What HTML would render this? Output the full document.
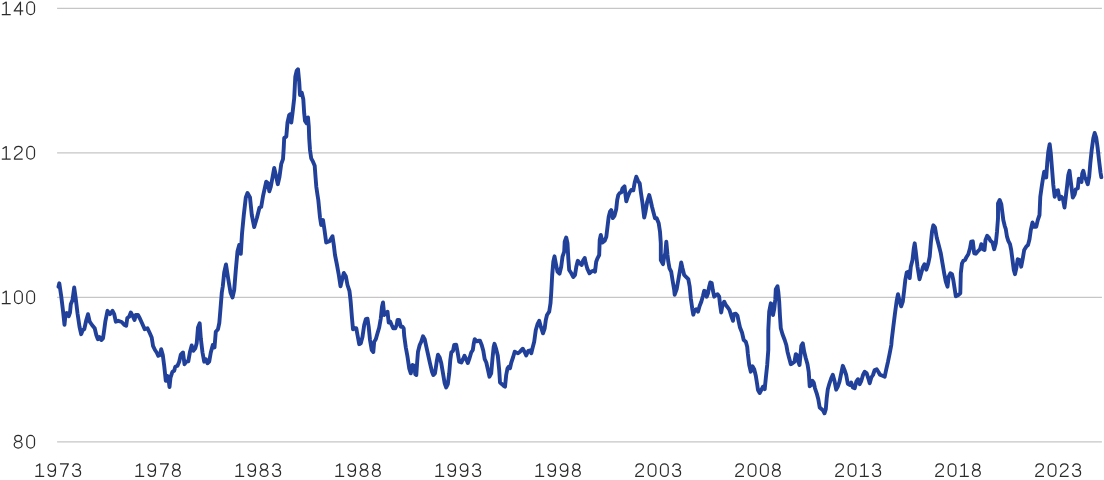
<!DOCTYPE html>
<html><head><meta charset="utf-8"><style>
html,body{margin:0;padding:0;background:#fff;}
body{width:1104px;height:480px;position:relative;overflow:hidden;font-family:"Liberation Sans",sans-serif;}
svg{position:absolute;left:0;top:0;}
</style></head><body>
<svg width="1104" height="480" viewBox="0 0 1104 480">
<g stroke="#c6c6c6" stroke-width="1.1">
<line x1="57.1" y1="8.35" x2="1101.9" y2="8.35"/>
<line x1="57.1" y1="152.85" x2="1101.9" y2="152.85"/>
<line x1="57.1" y1="297.35" x2="1101.9" y2="297.35"/>
<line x1="57.1" y1="441.85" x2="1101.9" y2="441.85"/>
</g>
<path d="M58.5,286.8 L59.3,283.3 L61.3,296.7 L63.0,310.8 L64.5,324.7 L65.5,314.2 L66.7,313.0 L68.7,316.3 L70.0,312.5 L70.8,304.2 L72.5,300.0 L74.2,287.5 L75.7,298.3 L77.5,313.3 L79.5,326.7 L81.2,334.2 L82.7,330.0 L84.3,329.2 L86.3,320.0 L88.0,314.2 L89.7,321.7 L92.0,325.0 L94.7,328.3 L96.3,335.0 L97.8,339.2 L99.5,337.0 L101.3,340.0 L103.0,338.3 L104.2,330.0 L105.3,321.7 L107.5,310.8 L110.0,314.2 L112.5,310.8 L114.2,314.2 L115.8,321.7 L118.3,320.8 L121.7,322.0 L124.2,324.7 L126.2,325.8 L127.3,318.0 L129.2,316.7 L130.8,312.5 L132.5,315.5 L134.5,320.0 L135.8,315.0 L138.0,315.0 L140.0,318.7 L142.5,324.2 L144.7,329.2 L147.5,328.3 L149.5,332.5 L151.7,337.5 L153.0,345.8 L155.0,350.0 L156.7,352.5 L158.3,355.8 L160.0,355.0 L161.2,349.2 L162.8,355.0 L164.2,365.8 L165.8,380.8 L167.2,375.8 L168.3,377.5 L169.5,387.0 L170.5,377.5 L172.5,371.7 L174.2,370.8 L175.3,366.7 L177.5,365.8 L179.2,361.7 L180.8,354.7 L183.0,352.5 L184.5,364.2 L186.3,361.7 L188.3,361.3 L190.0,351.7 L191.7,345.5 L193.3,350.8 L195.3,348.3 L196.7,343.3 L198.0,327.5 L199.7,323.3 L200.8,338.3 L202.5,352.5 L204.2,361.7 L205.8,359.2 L207.5,363.3 L209.2,361.7 L210.8,352.5 L212.8,345.0 L214.5,347.5 L215.8,331.7 L218.0,329.2 L219.3,323.0 L220.3,311.0 L221.8,292.5 L222.8,286.2 L224.2,272.5 L226.0,264.5 L228.0,277.5 L230.5,292.5 L232.5,297.5 L234.2,290.0 L235.8,270.0 L237.5,251.2 L239.2,245.0 L240.8,253.8 L242.0,233.8 L243.8,215.0 L245.8,197.5 L247.5,193.0 L250.0,197.5 L251.8,215.0 L254.2,227.0 L257.0,217.5 L259.5,207.5 L261.2,207.0 L263.0,196.2 L265.5,185.0 L266.2,181.7 L268.0,183.3 L269.3,191.3 L270.8,186.7 L272.5,177.5 L274.2,168.0 L275.8,175.0 L277.8,184.2 L279.5,176.7 L281.2,164.2 L283.0,159.2 L283.7,148.3 L284.2,138.0 L286.3,136.7 L287.5,122.5 L289.2,115.0 L290.3,114.2 L291.3,122.5 L292.5,113.3 L294.2,98.3 L295.3,76.7 L296.7,70.8 L298.0,69.2 L299.2,81.7 L300.0,95.0 L301.7,92.5 L303.3,99.2 L304.2,113.3 L305.0,120.8 L306.7,123.3 L308.0,117.5 L308.8,126.7 L309.2,138.3 L310.0,150.0 L311.2,158.3 L313.0,161.7 L314.7,165.8 L315.5,176.7 L316.3,186.7 L317.5,195.0 L318.3,200.0 L320.0,217.5 L321.2,225.0 L323.0,220.0 L324.5,230.0 L326.2,242.5 L329.5,241.2 L332.5,236.2 L333.8,245.0 L335.0,255.0 L337.0,265.0 L338.8,275.0 L340.5,286.2 L342.0,280.0 L343.8,273.0 L345.8,276.2 L347.5,285.0 L349.5,291.2 L350.5,300.0 L350.8,303.3 L352.0,318.3 L353.0,329.2 L354.7,328.3 L356.3,328.3 L357.5,335.0 L359.2,344.2 L360.8,343.3 L362.5,336.7 L364.2,325.0 L365.8,319.2 L367.5,318.7 L368.7,326.7 L370.0,340.0 L371.7,350.0 L373.3,352.0 L374.2,341.7 L375.8,339.2 L377.5,333.3 L379.2,327.5 L380.8,318.3 L382.0,306.7 L383.0,302.5 L384.2,315.0 L385.8,313.3 L387.5,311.7 L388.7,322.5 L390.3,321.7 L391.7,325.0 L393.3,328.3 L395.3,328.3 L396.7,325.0 L397.5,320.0 L399.2,320.0 L400.8,326.7 L402.5,326.7 L403.7,328.3 L404.2,335.8 L405.8,347.5 L407.5,356.7 L409.2,368.3 L410.8,373.3 L412.5,365.0 L414.2,365.8 L415.3,374.2 L416.3,375.0 L417.2,361.7 L418.0,351.7 L419.7,345.0 L421.3,341.7 L423.0,336.3 L424.7,339.2 L426.3,346.7 L428.0,354.2 L430.0,363.3 L432.0,371.7 L433.3,375.0 L435.0,373.3 L436.7,361.7 L438.0,354.7 L439.7,357.5 L441.3,363.3 L443.0,373.3 L444.7,383.3 L446.2,387.5 L447.8,384.2 L449.2,373.3 L450.3,360.0 L451.3,352.5 L453.0,350.8 L454.2,345.0 L456.2,344.7 L457.5,351.7 L459.2,361.7 L461.3,362.5 L463.0,359.2 L464.5,355.8 L466.2,359.2 L467.8,363.0 L469.5,358.3 L471.2,352.5 L472.8,350.0 L473.8,343.3 L474.7,339.2 L476.7,341.3 L478.3,340.8 L480.0,340.8 L481.7,345.0 L483.3,350.8 L484.7,359.2 L486.3,362.5 L488.0,370.0 L489.5,376.7 L491.2,373.3 L492.5,358.3 L493.7,346.7 L494.5,343.8 L496.2,349.2 L497.8,355.8 L499.2,370.0 L500.0,382.5 L502.0,384.2 L503.7,385.8 L505.0,386.7 L506.2,375.0 L507.5,368.3 L508.7,366.7 L510.0,368.3 L511.3,362.5 L513.0,357.5 L514.7,351.7 L516.3,352.5 L518.0,353.3 L520.0,351.7 L522.8,348.7 L524.5,351.7 L526.2,355.5 L528.3,350.8 L530.0,350.5 L531.3,353.3 L532.5,348.3 L534.2,341.7 L535.8,330.0 L537.5,324.2 L539.2,320.8 L540.8,326.7 L543.0,333.3 L544.7,328.3 L545.8,320.0 L547.0,315.0 L549.2,311.7 L550.5,303.3 L551.3,291.7 L552.2,275.0 L553.3,261.7 L554.5,256.3 L555.8,263.3 L557.5,271.7 L559.5,273.7 L561.2,266.7 L562.5,256.7 L564.2,251.7 L564.7,241.7 L566.2,237.5 L567.5,243.3 L568.3,258.3 L569.2,270.0 L571.3,273.3 L573.3,277.0 L575.0,275.0 L576.3,266.7 L577.8,260.8 L579.7,263.3 L581.7,265.0 L583.0,260.8 L584.7,258.0 L585.8,263.3 L587.5,269.2 L589.5,273.3 L591.7,271.3 L593.3,270.8 L595.0,271.7 L596.2,261.7 L597.5,258.3 L599.2,255.0 L599.7,240.0 L600.8,235.0 L602.5,242.5 L604.7,240.8 L606.3,236.7 L607.5,226.7 L608.7,216.7 L610.0,211.7 L611.2,210.0 L612.8,218.0 L614.5,215.8 L616.2,209.2 L617.2,200.0 L618.3,195.0 L619.7,193.0 L621.3,192.5 L622.5,188.3 L624.5,186.3 L625.3,193.3 L626.3,201.3 L627.8,196.7 L629.5,192.5 L631.2,190.0 L633.3,190.3 L634.7,182.5 L636.3,176.7 L638.0,180.8 L639.7,183.3 L640.8,191.7 L642.5,203.3 L644.2,217.5 L645.5,211.7 L647.2,201.7 L649.2,195.0 L650.5,200.0 L652.0,206.7 L653.7,213.3 L655.0,218.3 L656.7,218.3 L658.7,223.3 L660.0,231.7 L660.8,243.3 L660.8,260.0 L663.0,264.2 L664.2,256.7 L665.3,253.3 L666.3,241.7 L667.5,255.0 L668.3,261.7 L669.5,268.3 L671.2,271.7 L672.5,280.0 L674.2,290.0 L674.7,294.7 L676.7,289.2 L678.3,280.0 L680.0,270.0 L681.2,262.5 L682.5,268.3 L684.2,275.0 L685.8,276.7 L688.3,279.2 L689.7,286.7 L690.8,298.3 L692.2,308.3 L693.3,314.7 L694.7,310.0 L696.3,309.2 L698.0,311.7 L699.7,305.8 L701.3,301.7 L703.0,295.8 L704.2,290.8 L705.3,291.3 L706.7,296.7 L708.0,293.3 L709.2,286.7 L710.3,282.5 L711.7,283.0 L712.8,290.0 L714.2,296.7 L715.8,295.0 L717.5,294.2 L719.2,296.7 L720.0,304.2 L721.2,312.5 L722.5,305.0 L724.2,301.7 L725.8,305.0 L727.8,307.5 L729.5,310.0 L731.2,315.8 L733.0,320.8 L733.8,314.2 L735.8,313.7 L737.5,315.8 L738.7,321.7 L740.0,327.5 L742.0,332.5 L743.7,340.0 L745.8,341.7 L747.2,346.7 L747.8,353.3 L749.2,365.0 L750.8,371.7 L752.5,366.3 L754.2,369.2 L755.8,375.8 L757.0,383.3 L758.0,390.0 L759.7,393.0 L761.3,390.0 L763.0,386.7 L764.7,389.2 L765.8,378.3 L767.2,365.0 L768.3,350.0 L768.3,330.0 L769.2,311.7 L770.8,303.3 L771.7,304.2 L773.0,315.0 L774.2,309.2 L775.3,299.2 L775.8,289.2 L777.5,286.3 L778.3,291.7 L779.2,301.7 L780.0,316.7 L780.8,328.3 L782.5,334.2 L784.7,340.0 L786.3,345.0 L787.5,351.7 L789.2,358.3 L790.8,364.2 L792.5,363.3 L794.5,361.7 L795.8,354.2 L797.0,355.0 L798.3,361.7 L799.5,365.0 L800.5,355.0 L801.3,345.8 L802.8,343.3 L804.2,351.7 L805.8,358.3 L807.5,364.2 L808.7,371.7 L809.7,386.3 L811.3,385.0 L812.5,380.8 L813.7,382.5 L815.0,388.3 L816.7,393.3 L818.3,399.2 L819.7,407.5 L821.7,409.2 L823.3,410.8 L824.5,413.3 L825.8,409.2 L826.7,398.3 L827.8,389.2 L829.5,383.3 L831.2,378.3 L832.8,374.7 L834.5,380.8 L836.2,389.7 L837.8,386.7 L839.5,381.7 L841.2,373.3 L842.8,365.8 L844.5,370.0 L846.2,375.0 L847.8,383.7 L850.0,385.0 L851.2,382.5 L852.8,387.5 L854.7,388.3 L856.3,381.7 L858.0,379.2 L859.7,384.2 L861.3,380.8 L863.0,375.0 L864.7,371.7 L866.7,373.3 L868.3,378.3 L869.7,383.3 L871.3,377.5 L873.0,375.0 L874.7,370.0 L876.7,369.2 L878.3,371.7 L880.0,374.7 L882.5,375.8 L884.7,376.7 L886.3,369.2 L888.0,361.7 L889.7,353.3 L891.3,345.0 L891.7,340.0 L893.3,326.7 L895.0,313.3 L896.7,300.8 L898.0,294.2 L899.5,300.8 L901.2,306.3 L902.8,301.7 L904.2,290.0 L905.3,280.0 L906.7,272.5 L908.3,271.7 L909.7,278.0 L910.8,266.7 L912.5,260.0 L913.8,248.3 L914.7,243.3 L915.8,251.7 L917.5,266.7 L919.5,279.2 L921.2,273.3 L922.8,267.5 L924.5,264.2 L926.3,269.7 L928.3,263.3 L929.7,256.7 L930.8,243.3 L932.0,231.7 L933.3,225.3 L935.0,227.5 L936.7,237.5 L938.7,245.0 L940.8,253.3 L942.5,263.3 L944.2,273.3 L945.8,281.7 L947.5,286.7 L948.7,276.7 L950.3,273.3 L952.0,274.2 L953.3,280.0 L955.8,296.3 L958.3,295.0 L960.3,293.3 L960.8,273.3 L962.0,263.3 L963.3,260.8 L965.0,260.0 L966.7,256.7 L968.3,254.2 L970.0,248.3 L971.2,241.7 L972.8,241.3 L974.2,253.3 L975.8,253.7 L978.3,250.8 L980.0,249.2 L981.3,244.2 L983.0,249.2 L984.5,250.0 L985.5,240.0 L987.2,235.8 L988.8,237.5 L990.5,240.8 L992.5,242.5 L994.2,249.2 L995.8,243.3 L997.0,231.7 L998.0,218.3 L998.0,203.3 L999.7,200.0 L1001.3,204.2 L1003.3,220.0 L1004.7,225.8 L1005.8,229.2 L1007.0,236.7 L1008.3,240.8 L1010.0,244.2 L1011.2,250.0 L1012.5,260.0 L1013.8,270.0 L1015.0,274.2 L1016.3,268.3 L1017.7,259.2 L1019.7,260.0 L1021.2,266.7 L1022.8,258.3 L1024.2,250.0 L1026.2,246.7 L1028.0,245.0 L1029.5,239.2 L1030.8,230.0 L1032.5,222.5 L1034.2,226.7 L1036.2,226.7 L1037.8,220.0 L1039.5,215.0 L1040.3,196.7 L1041.7,186.7 L1043.0,178.3 L1044.2,171.7 L1046.2,177.5 L1047.2,163.3 L1048.3,151.7 L1049.7,144.2 L1050.8,153.3 L1052.0,168.3 L1053.3,185.0 L1054.7,196.7 L1056.3,190.8 L1058.0,190.3 L1059.5,199.2 L1061.2,196.7 L1062.8,198.3 L1064.5,207.5 L1065.8,196.7 L1067.2,185.0 L1068.3,175.0 L1069.5,170.8 L1070.8,181.7 L1072.8,197.5 L1074.7,194.2 L1075.8,189.2 L1077.8,188.3 L1078.8,178.7 L1081.5,182.0 L1082.2,173.7 L1083.3,170.8 L1084.7,176.7 L1086.2,180.0 L1087.8,184.2 L1089.2,176.7 L1090.3,163.3 L1091.7,150.0 L1093.3,138.3 L1094.7,133.0 L1096.2,137.5 L1097.5,146.7 L1099.2,161.7 L1100.5,172.5 L1101.3,177.2" fill="none" stroke="#21409a" stroke-width="3.9" stroke-linejoin="round" stroke-linecap="round"/>
<g fill="none" stroke="#2b2b2b" stroke-width="1.25" stroke-linejoin="round" stroke-linecap="butt">
<path transform="translate(1.60,1.35) scale(1,0.972)" d="M0.2,13.6 H9.1 M4.65,13.6 V0.7 L1.0,3.1"/><path transform="translate(13.45,1.35) scale(1,0.972)" d="M7.0,14.2 V0.8 L0.7,9.9 H9.8"/><path transform="translate(26.10,1.35) scale(1,0.972)" d="M0.7,4.6 A3.85,4.0 0 0 1 8.4,4.6 V9.6 A3.85,4.0 0 0 1 0.7,9.6 Z"/><path transform="translate(1.60,145.85) scale(1,0.972)" d="M0.2,13.6 H9.1 M4.65,13.6 V0.7 L1.0,3.1"/><path transform="translate(13.80,145.85) scale(1,0.972)" d="M0.8,4.1 C0.9,1.8 2.4,0.6 4.6,0.6 C6.8,0.6 8.3,1.9 8.3,3.9 C8.3,5.6 7.2,6.7 5.4,8.0 L2.7,9.9 C1.3,10.9 0.7,12.0 0.6,13.6 H8.9"/><path transform="translate(26.10,145.85) scale(1,0.972)" d="M0.7,4.6 A3.85,4.0 0 0 1 8.4,4.6 V9.6 A3.85,4.0 0 0 1 0.7,9.6 Z"/><path transform="translate(1.60,290.35) scale(1,0.972)" d="M0.2,13.6 H9.1 M4.65,13.6 V0.7 L1.0,3.1"/><path transform="translate(13.90,290.35) scale(1,0.972)" d="M0.7,4.6 A3.85,4.0 0 0 1 8.4,4.6 V9.6 A3.85,4.0 0 0 1 0.7,9.6 Z"/><path transform="translate(26.10,290.35) scale(1,0.972)" d="M0.7,4.6 A3.85,4.0 0 0 1 8.4,4.6 V9.6 A3.85,4.0 0 0 1 0.7,9.6 Z"/><path transform="translate(13.60,434.85) scale(1,0.972)" d="M4.55,0.6 A3.4,3.1 0 0 1 4.55,6.8 A3.4,3.1 0 0 1 4.55,0.6 Z M4.55,6.8 A3.95,3.4 0 0 1 4.55,13.6 A3.95,3.4 0 0 1 4.55,6.8 Z"/><path transform="translate(26.10,434.85) scale(1,0.972)" d="M0.7,4.6 A3.85,4.0 0 0 1 8.4,4.6 V9.6 A3.85,4.0 0 0 1 0.7,9.6 Z"/><path transform="translate(35.10,463.25) scale(1,0.972)" d="M0.2,13.6 H9.1 M4.65,13.6 V0.7 L1.0,3.1"/><path transform="translate(47.35,463.25) scale(1,0.972)" d="M8.1,4.5 A3.75,3.9 0 1 1 0.6,4.5 A3.75,3.9 0 1 1 8.1,4.5 V8.8 C8.1,12.0 6.8,13.6 4.4,13.6 C2.4,13.6 1.1,12.6 0.8,10.9"/><path transform="translate(59.65,463.25) scale(1,0.972)" d="M0.3,0.6 H8.7 C6.0,4.8 4.2,9.0 3.4,14.1"/><path transform="translate(72.00,463.25) scale(1,0.972)" d="M0.9,3.8 C1.1,1.7 2.5,0.6 4.6,0.6 C6.8,0.6 8.2,1.8 8.2,3.6 C8.2,5.5 6.8,6.6 4.4,6.6 H3.4 M4.4,6.6 C7.1,6.6 8.6,7.9 8.6,10.0 C8.6,12.2 7.1,13.6 4.6,13.6 C2.3,13.6 0.8,12.4 0.5,10.1"/><path transform="translate(135.10,463.25) scale(1,0.972)" d="M0.2,13.6 H9.1 M4.65,13.6 V0.7 L1.0,3.1"/><path transform="translate(147.35,463.25) scale(1,0.972)" d="M8.1,4.5 A3.75,3.9 0 1 1 0.6,4.5 A3.75,3.9 0 1 1 8.1,4.5 V8.8 C8.1,12.0 6.8,13.6 4.4,13.6 C2.4,13.6 1.1,12.6 0.8,10.9"/><path transform="translate(159.65,463.25) scale(1,0.972)" d="M0.3,0.6 H8.7 C6.0,4.8 4.2,9.0 3.4,14.1"/><path transform="translate(171.80,463.25) scale(1,0.972)" d="M4.55,0.6 A3.4,3.1 0 0 1 4.55,6.8 A3.4,3.1 0 0 1 4.55,0.6 Z M4.55,6.8 A3.95,3.4 0 0 1 4.55,13.6 A3.95,3.4 0 0 1 4.55,6.8 Z"/><path transform="translate(235.10,463.25) scale(1,0.972)" d="M0.2,13.6 H9.1 M4.65,13.6 V0.7 L1.0,3.1"/><path transform="translate(247.35,463.25) scale(1,0.972)" d="M8.1,4.5 A3.75,3.9 0 1 1 0.6,4.5 A3.75,3.9 0 1 1 8.1,4.5 V8.8 C8.1,12.0 6.8,13.6 4.4,13.6 C2.4,13.6 1.1,12.6 0.8,10.9"/><path transform="translate(259.50,463.25) scale(1,0.972)" d="M4.55,0.6 A3.4,3.1 0 0 1 4.55,6.8 A3.4,3.1 0 0 1 4.55,0.6 Z M4.55,6.8 A3.95,3.4 0 0 1 4.55,13.6 A3.95,3.4 0 0 1 4.55,6.8 Z"/><path transform="translate(272.00,463.25) scale(1,0.972)" d="M0.9,3.8 C1.1,1.7 2.5,0.6 4.6,0.6 C6.8,0.6 8.2,1.8 8.2,3.6 C8.2,5.5 6.8,6.6 4.4,6.6 H3.4 M4.4,6.6 C7.1,6.6 8.6,7.9 8.6,10.0 C8.6,12.2 7.1,13.6 4.6,13.6 C2.3,13.6 0.8,12.4 0.5,10.1"/><path transform="translate(335.10,463.25) scale(1,0.972)" d="M0.2,13.6 H9.1 M4.65,13.6 V0.7 L1.0,3.1"/><path transform="translate(347.35,463.25) scale(1,0.972)" d="M8.1,4.5 A3.75,3.9 0 1 1 0.6,4.5 A3.75,3.9 0 1 1 8.1,4.5 V8.8 C8.1,12.0 6.8,13.6 4.4,13.6 C2.4,13.6 1.1,12.6 0.8,10.9"/><path transform="translate(359.50,463.25) scale(1,0.972)" d="M4.55,0.6 A3.4,3.1 0 0 1 4.55,6.8 A3.4,3.1 0 0 1 4.55,0.6 Z M4.55,6.8 A3.95,3.4 0 0 1 4.55,13.6 A3.95,3.4 0 0 1 4.55,6.8 Z"/><path transform="translate(371.80,463.25) scale(1,0.972)" d="M4.55,0.6 A3.4,3.1 0 0 1 4.55,6.8 A3.4,3.1 0 0 1 4.55,0.6 Z M4.55,6.8 A3.95,3.4 0 0 1 4.55,13.6 A3.95,3.4 0 0 1 4.55,6.8 Z"/><path transform="translate(435.10,463.25) scale(1,0.972)" d="M0.2,13.6 H9.1 M4.65,13.6 V0.7 L1.0,3.1"/><path transform="translate(447.35,463.25) scale(1,0.972)" d="M8.1,4.5 A3.75,3.9 0 1 1 0.6,4.5 A3.75,3.9 0 1 1 8.1,4.5 V8.8 C8.1,12.0 6.8,13.6 4.4,13.6 C2.4,13.6 1.1,12.6 0.8,10.9"/><path transform="translate(459.65,463.25) scale(1,0.972)" d="M8.1,4.5 A3.75,3.9 0 1 1 0.6,4.5 A3.75,3.9 0 1 1 8.1,4.5 V8.8 C8.1,12.0 6.8,13.6 4.4,13.6 C2.4,13.6 1.1,12.6 0.8,10.9"/><path transform="translate(472.00,463.25) scale(1,0.972)" d="M0.9,3.8 C1.1,1.7 2.5,0.6 4.6,0.6 C6.8,0.6 8.2,1.8 8.2,3.6 C8.2,5.5 6.8,6.6 4.4,6.6 H3.4 M4.4,6.6 C7.1,6.6 8.6,7.9 8.6,10.0 C8.6,12.2 7.1,13.6 4.6,13.6 C2.3,13.6 0.8,12.4 0.5,10.1"/><path transform="translate(535.10,463.25) scale(1,0.972)" d="M0.2,13.6 H9.1 M4.65,13.6 V0.7 L1.0,3.1"/><path transform="translate(547.35,463.25) scale(1,0.972)" d="M8.1,4.5 A3.75,3.9 0 1 1 0.6,4.5 A3.75,3.9 0 1 1 8.1,4.5 V8.8 C8.1,12.0 6.8,13.6 4.4,13.6 C2.4,13.6 1.1,12.6 0.8,10.9"/><path transform="translate(559.65,463.25) scale(1,0.972)" d="M8.1,4.5 A3.75,3.9 0 1 1 0.6,4.5 A3.75,3.9 0 1 1 8.1,4.5 V8.8 C8.1,12.0 6.8,13.6 4.4,13.6 C2.4,13.6 1.1,12.6 0.8,10.9"/><path transform="translate(571.80,463.25) scale(1,0.972)" d="M4.55,0.6 A3.4,3.1 0 0 1 4.55,6.8 A3.4,3.1 0 0 1 4.55,0.6 Z M4.55,6.8 A3.95,3.4 0 0 1 4.55,13.6 A3.95,3.4 0 0 1 4.55,6.8 Z"/><path transform="translate(635.10,463.25) scale(1,0.972)" d="M0.8,4.1 C0.9,1.8 2.4,0.6 4.6,0.6 C6.8,0.6 8.3,1.9 8.3,3.9 C8.3,5.6 7.2,6.7 5.4,8.0 L2.7,9.9 C1.3,10.9 0.7,12.0 0.6,13.6 H8.9"/><path transform="translate(647.50,463.25) scale(1,0.972)" d="M0.7,4.6 A3.85,4.0 0 0 1 8.4,4.6 V9.6 A3.85,4.0 0 0 1 0.7,9.6 Z"/><path transform="translate(659.80,463.25) scale(1,0.972)" d="M0.7,4.6 A3.85,4.0 0 0 1 8.4,4.6 V9.6 A3.85,4.0 0 0 1 0.7,9.6 Z"/><path transform="translate(672.00,463.25) scale(1,0.972)" d="M0.9,3.8 C1.1,1.7 2.5,0.6 4.6,0.6 C6.8,0.6 8.2,1.8 8.2,3.6 C8.2,5.5 6.8,6.6 4.4,6.6 H3.4 M4.4,6.6 C7.1,6.6 8.6,7.9 8.6,10.0 C8.6,12.2 7.1,13.6 4.6,13.6 C2.3,13.6 0.8,12.4 0.5,10.1"/><path transform="translate(735.10,463.25) scale(1,0.972)" d="M0.8,4.1 C0.9,1.8 2.4,0.6 4.6,0.6 C6.8,0.6 8.3,1.9 8.3,3.9 C8.3,5.6 7.2,6.7 5.4,8.0 L2.7,9.9 C1.3,10.9 0.7,12.0 0.6,13.6 H8.9"/><path transform="translate(747.50,463.25) scale(1,0.972)" d="M0.7,4.6 A3.85,4.0 0 0 1 8.4,4.6 V9.6 A3.85,4.0 0 0 1 0.7,9.6 Z"/><path transform="translate(759.80,463.25) scale(1,0.972)" d="M0.7,4.6 A3.85,4.0 0 0 1 8.4,4.6 V9.6 A3.85,4.0 0 0 1 0.7,9.6 Z"/><path transform="translate(771.80,463.25) scale(1,0.972)" d="M4.55,0.6 A3.4,3.1 0 0 1 4.55,6.8 A3.4,3.1 0 0 1 4.55,0.6 Z M4.55,6.8 A3.95,3.4 0 0 1 4.55,13.6 A3.95,3.4 0 0 1 4.55,6.8 Z"/><path transform="translate(835.10,463.25) scale(1,0.972)" d="M0.8,4.1 C0.9,1.8 2.4,0.6 4.6,0.6 C6.8,0.6 8.3,1.9 8.3,3.9 C8.3,5.6 7.2,6.7 5.4,8.0 L2.7,9.9 C1.3,10.9 0.7,12.0 0.6,13.6 H8.9"/><path transform="translate(847.50,463.25) scale(1,0.972)" d="M0.7,4.6 A3.85,4.0 0 0 1 8.4,4.6 V9.6 A3.85,4.0 0 0 1 0.7,9.6 Z"/><path transform="translate(859.70,463.25) scale(1,0.972)" d="M0.2,13.6 H9.1 M4.65,13.6 V0.7 L1.0,3.1"/><path transform="translate(872.00,463.25) scale(1,0.972)" d="M0.9,3.8 C1.1,1.7 2.5,0.6 4.6,0.6 C6.8,0.6 8.2,1.8 8.2,3.6 C8.2,5.5 6.8,6.6 4.4,6.6 H3.4 M4.4,6.6 C7.1,6.6 8.6,7.9 8.6,10.0 C8.6,12.2 7.1,13.6 4.6,13.6 C2.3,13.6 0.8,12.4 0.5,10.1"/><path transform="translate(935.10,463.25) scale(1,0.972)" d="M0.8,4.1 C0.9,1.8 2.4,0.6 4.6,0.6 C6.8,0.6 8.3,1.9 8.3,3.9 C8.3,5.6 7.2,6.7 5.4,8.0 L2.7,9.9 C1.3,10.9 0.7,12.0 0.6,13.6 H8.9"/><path transform="translate(947.50,463.25) scale(1,0.972)" d="M0.7,4.6 A3.85,4.0 0 0 1 8.4,4.6 V9.6 A3.85,4.0 0 0 1 0.7,9.6 Z"/><path transform="translate(959.70,463.25) scale(1,0.972)" d="M0.2,13.6 H9.1 M4.65,13.6 V0.7 L1.0,3.1"/><path transform="translate(971.80,463.25) scale(1,0.972)" d="M4.55,0.6 A3.4,3.1 0 0 1 4.55,6.8 A3.4,3.1 0 0 1 4.55,0.6 Z M4.55,6.8 A3.95,3.4 0 0 1 4.55,13.6 A3.95,3.4 0 0 1 4.55,6.8 Z"/><path transform="translate(1035.10,463.25) scale(1,0.972)" d="M0.8,4.1 C0.9,1.8 2.4,0.6 4.6,0.6 C6.8,0.6 8.3,1.9 8.3,3.9 C8.3,5.6 7.2,6.7 5.4,8.0 L2.7,9.9 C1.3,10.9 0.7,12.0 0.6,13.6 H8.9"/><path transform="translate(1047.50,463.25) scale(1,0.972)" d="M0.7,4.6 A3.85,4.0 0 0 1 8.4,4.6 V9.6 A3.85,4.0 0 0 1 0.7,9.6 Z"/><path transform="translate(1059.70,463.25) scale(1,0.972)" d="M0.8,4.1 C0.9,1.8 2.4,0.6 4.6,0.6 C6.8,0.6 8.3,1.9 8.3,3.9 C8.3,5.6 7.2,6.7 5.4,8.0 L2.7,9.9 C1.3,10.9 0.7,12.0 0.6,13.6 H8.9"/><path transform="translate(1072.00,463.25) scale(1,0.972)" d="M0.9,3.8 C1.1,1.7 2.5,0.6 4.6,0.6 C6.8,0.6 8.2,1.8 8.2,3.6 C8.2,5.5 6.8,6.6 4.4,6.6 H3.4 M4.4,6.6 C7.1,6.6 8.6,7.9 8.6,10.0 C8.6,12.2 7.1,13.6 4.6,13.6 C2.3,13.6 0.8,12.4 0.5,10.1"/>
</g>
</svg>
</body></html>
